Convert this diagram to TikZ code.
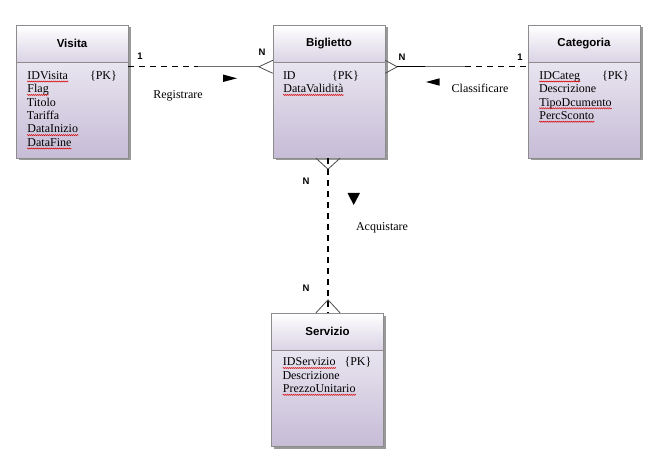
\documentclass[tikz,border=0pt]{standalone}
\usepackage{fontspec}
\setmainfont{Liberation Serif}
\setsansfont{Liberation Sans}
\usetikzlibrary{positioning, calc, shadows, decorations.pathmorphing}
\definecolor{boxline}{HTML}{8C8C8C}
\definecolor{boxtop}{HTML}{F6F4FA}
\definecolor{boxbot}{HTML}{C6BCD6}
\definecolor{headbot}{HTML}{DAD3E5}
\definecolor{linegray}{HTML}{6E6E6E}
% parola sottolineata dal correttore
\newcommand{\spl}[1]{\tikz[baseline=(sw.base)]{%
    \node[anchor=base, inner sep=0pt, draw=none, fill=none] (sw) at (0,0) {#1};
    \draw[red!85!black, line width=0.45pt, decorate,
        decoration={zigzag, amplitude=0.6pt, segment length=2pt}]
        ([yshift=-2.2pt]sw.base west) -- ([yshift=-2.2pt]sw.base east);}}
\tikzstyle{Entity} = [
draw=boxline, rectangle, inner sep=0pt,
minimum width=112pt, minimum height=133pt,
top color=boxtop, bottom color=boxbot,
drop shadow={shadow xshift=2.5pt, shadow yshift=-2.5pt, fill=black!40, opacity=1}]
\tikzstyle{Head} = [
draw=boxline, rectangle, inner sep=0pt, anchor=north,
minimum width=112pt, minimum height=37pt,
top color=white, bottom color=headbot,
font=\sffamily\bfseries\fontsize{11.5}{13}\selectfont]
\tikzstyle{Attr} = [align=left, inner sep=0pt, anchor=north west,
font=\fontsize{12}{13.4}\selectfont]
\tikzstyle{Card} = [inner sep=0pt, font=\sffamily\bfseries\fontsize{9.5}{11}\selectfont]
\tikzstyle{Rel} = [inner sep=0pt, font=\fontsize{12}{14}\selectfont]
\tikzstyle{Dash} = [line width=1.2pt, dash pattern=on 6pt off 5pt]
\tikzstyle{Link} = [line width=1.2pt, linegray]
\tikzstyle{Crow} = [line width=0.8pt, black!70]

\begin{document}
\begin{tikzpicture}[x=1pt, y=-1pt]
    \useasboundingbox (0,0) rectangle (661,465);
    % entita
    \node[Entity] (visita) at (72,91.5) {};
    \node[Entity] (biglietto) at (329,91.5) {};
    \node[Entity] (categoria) at (584,91.5) {};
    \node[Entity] (servizio) at (327.5,379.5) {};
    \node[Head] (visitaT) at (visita.north) {Visita};
    \node[Head] (bigliettoT) at (biglietto.north) {Biglietto};
    \node[Head] (categoriaT) at (categoria.north) {Categoria};
    \node[Head] (servizioT) at (servizio.north) {Servizio};
    \node[Attr, below right=46pt and 11pt of visita.north west] (visitaA)
        {\makebox[63pt][l]{\spl{IDVisita}}\{PK\}\\ \spl{Flag}\\ Titolo\\ Tariffa\\ \spl{DataInizio}\\ \spl{DataFine}};
    \node[Attr, below right=46pt and 10pt of biglietto.north west] (bigliettoA)
        {\makebox[49pt][l]{ID}\{PK\}\\ \spl{DataValidità}};
    \node[Attr, below right=46pt and 11pt of categoria.north west] (categoriaA)
        {\makebox[63pt][l]{\spl{IDCateg}}\{PK\}\\ Descrizione\\ \spl{TipoDcumento}\\ \spl{PercSconto}};
    \node[Attr, below right=44.5pt and 11pt of servizio.north west] (servizioA)
        {\makebox[62pt][l]{\spl{IDServizio}}\{PK\}\\ Descrizione\\ \spl{PrezzoUnitario}};
    % Registrare
    \coordinate (vR) at ([yshift=-42pt]visita.north east);
    \coordinate (bL) at ([yshift=-42pt]biglietto.north west);
    \coordinate (rM) at ([xshift=70pt]vR);
    \coordinate (rC) at ([xshift=-14pt]bL);
    \draw[Dash] (vR) -- (rM);
    \draw[Link] (rM) -- (rC);
    \draw[Crow] ([yshift=6.5pt]bL) -- (rC) -- ([yshift=-6.5pt]bL);
    \node[Card] (c1) at (140,56.5) {1};
    \node[Card] (c2) at (262,52) {N};
    \node[Rel] (registrare) at (178,96) {Registrare};
    \fill (223,74.5) -- (237,78.3) -- (223,82) -- cycle;
    % Classificare
    \coordinate (bR) at ([yshift=-42pt]biglietto.north east);
    \coordinate (cL) at ([yshift=-42pt]categoria.north west);
    \coordinate (kC) at ([xshift=12pt]bR);
    \coordinate (kB) at ([xshift=40pt]bR);
    \coordinate (kM) at ([xshift=-63pt]cL);
    \draw[Crow] ([yshift=6.5pt]bR) -- (kC) -- ([yshift=-6.5pt]bR);
    \draw[line width=1.2pt] (kC) -- (kB);
    \draw[Link] (kB) -- (kM);
    \draw[Dash] (kM) -- (cL);
    \node[Card] (c3) at (402,57.5) {N};
    \node[Card] (c4) at (520,57.5) {1};
    \node[Rel] (classificare) at (480,88.5) {Classificare};
    \fill (439.5,78.3) -- (426,82) -- (439.5,85.7) -- cycle;
    % Acquistare
    \coordinate (bS) at ([xshift=-1pt]biglietto.south);
    \coordinate (sN) at ([xshift=0.5pt]servizio.north);
    \coordinate (aT) at ([yshift=-11pt]bS);
    \coordinate (aB) at ([yshift=13pt]sN);
    \draw[Dash] (bS) -- (sN);
    \draw[Crow] ([xshift=-12pt]bS) -- (aT) -- ([xshift=12pt]bS);
    \draw[Crow] ([xshift=-12pt]sN) -- (aB) -- ([xshift=12pt]sN);
    \node[Card] (c5) at (306,181.5) {N};
    \node[Card] (c6) at (306,288.5) {N};
    \node[Rel] (acquistare) at (382,227.5) {Acquistare};
    \fill (347.5,193) -- (360,193) -- (353.7,205) -- cycle;
\end{tikzpicture}
\end{document}
